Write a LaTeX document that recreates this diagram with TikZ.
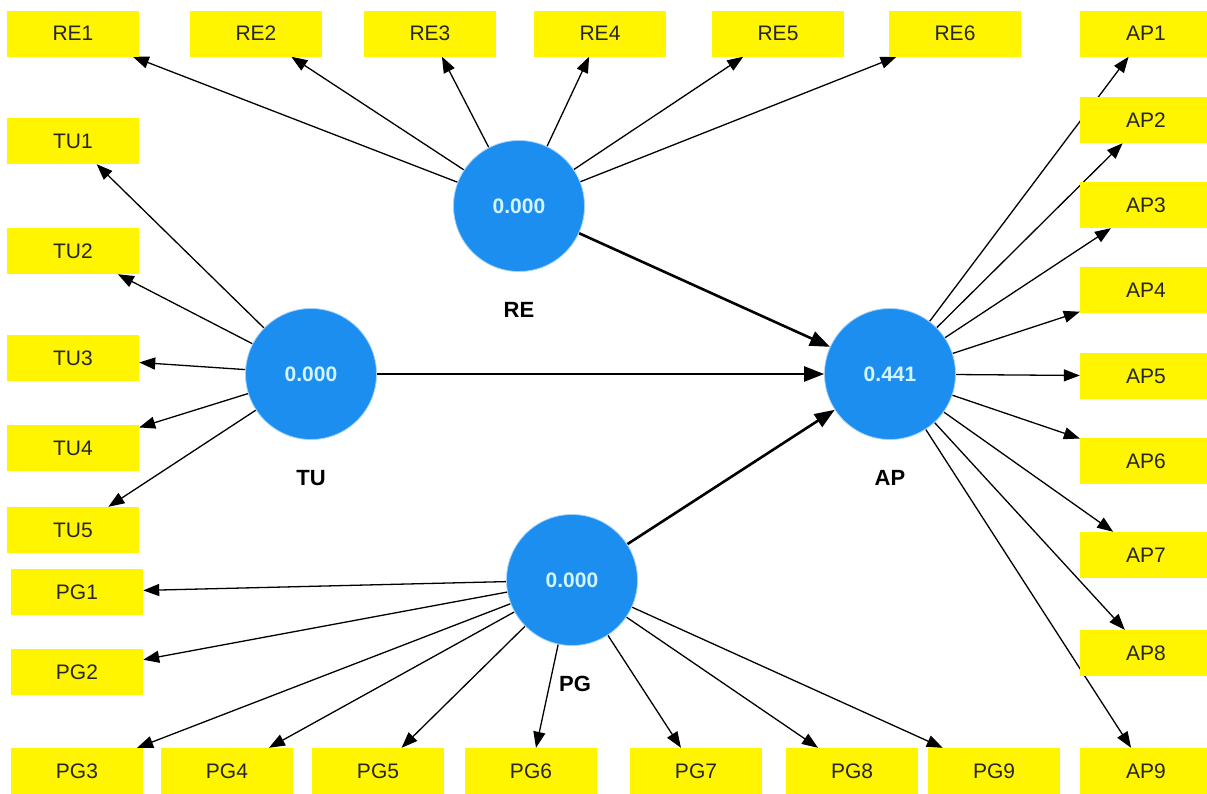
\documentclass[tikz,border=0pt]{standalone}
\usepackage{fontspec}
\setmainfont{Liberation Sans}
\usetikzlibrary{arrows.meta}
\pgfdeclarelayer{bg}
\pgfsetlayers{bg,main}
\definecolor{boxyellow}{RGB}{255,245,0}
\definecolor{lvblue}{RGB}{28,142,240}
\definecolor{lvtext}{RGB}{210,245,255}
\tikzset{
  ind/.style={fill=boxyellow, minimum width=132pt, minimum height=46pt, inner sep=0pt,
    font=\fontsize{21}{25}\selectfont, text=black!85},
  lv/.style={circle, fill=lvblue, draw=lvblue!40, line width=0.8pt, minimum size=131pt, inner sep=0pt,
    font=\bfseries\fontsize{21}{25}\selectfont, text=lvtext},
  lvlabel/.style={font=\bfseries\fontsize{22}{26}\selectfont, text=black},
  load/.style={-{Triangle[length=16pt,width=12pt]}, line width=1.3pt, black},
  path/.style={-{Triangle[length=20pt,width=15pt]}, line width=2.6pt, black}
}
\begin{document}
\begin{tikzpicture}[x=1pt,y=-1pt]
\useasboundingbox (0,0) rectangle (1207,793);
% latent variables
\node[lv] (RE) at (519,206) {0.000};
\node[lv] (TU) at (311,374) {0.000};
\node[lv] (AP) at (890,374) {0.441};
\node[lv] (PG) at (572,580) {0.000};
\node[lvlabel] (REl) at (519,310) {RE};
\node[lvlabel] (TUl) at (311,478) {TU};
\node[lvlabel] (APl) at (890,478) {AP};
\node[lvlabel] (PGl) at (575,684) {PG};
% indicators
\node[ind] (RE1) at (73,33.5) {RE1};
\node[ind] (RE2) at (256,33.5) {RE2};
\node[ind] (RE3) at (430,33.5) {RE3};
\node[ind] (RE4) at (600,33.5) {RE4};
\node[ind] (RE5) at (778,33.5) {RE5};
\node[ind] (RE6) at (955,33.5) {RE6};
\node[ind] (TU1) at (73,141) {TU1};
\node[ind] (TU2) at (73,251) {TU2};
\node[ind] (TU3) at (73,358) {TU3};
\node[ind] (TU4) at (73,448) {TU4};
\node[ind] (TU5) at (73,530) {TU5};
\node[ind] (PG1) at (77,592) {PG1};
\node[ind] (PG2) at (77,672) {PG2};
\node[ind] (PG3) at (77,771) {PG3};
\node[ind] (PG4) at (227,771) {PG4};
\node[ind] (PG5) at (378,771) {PG5};
\node[ind] (PG6) at (531,771) {PG6};
\node[ind] (PG7) at (696,771) {PG7};
\node[ind] (PG8) at (852,771) {PG8};
\node[ind] (PG9) at (994,771) {PG9};
\node[ind] (AP1) at (1146,33.5) {AP1};
\node[ind] (AP2) at (1146,120) {AP2};
\node[ind] (AP3) at (1146,205) {AP3};
\node[ind] (AP4) at (1146,290) {AP4};
\node[ind] (AP5) at (1146,376) {AP5};
\node[ind] (AP6) at (1146,461) {AP6};
\node[ind] (AP7) at (1146,555) {AP7};
\node[ind] (AP8) at (1146,653) {AP8};
\node[ind] (AP9) at (1146,771) {AP9};
\begin{pgfonlayer}{bg}
\fill[white] (0,0) rectangle (1207,793);
\foreach \i in {1,...,6} \draw[load] (RE) -- (RE\i);
\foreach \i in {1,...,5} \draw[load] (TU) -- (TU\i);
\foreach \i in {1,...,9} \draw[load] (PG) -- (PG\i);
\foreach \i in {1,...,9} \draw[load] (AP) -- (AP\i);
\draw[path] (RE) -- (AP);
\draw[path] (TU) -- (AP);
\draw[path] (PG) -- (AP);
\end{pgfonlayer}
\end{tikzpicture}
\end{document}
